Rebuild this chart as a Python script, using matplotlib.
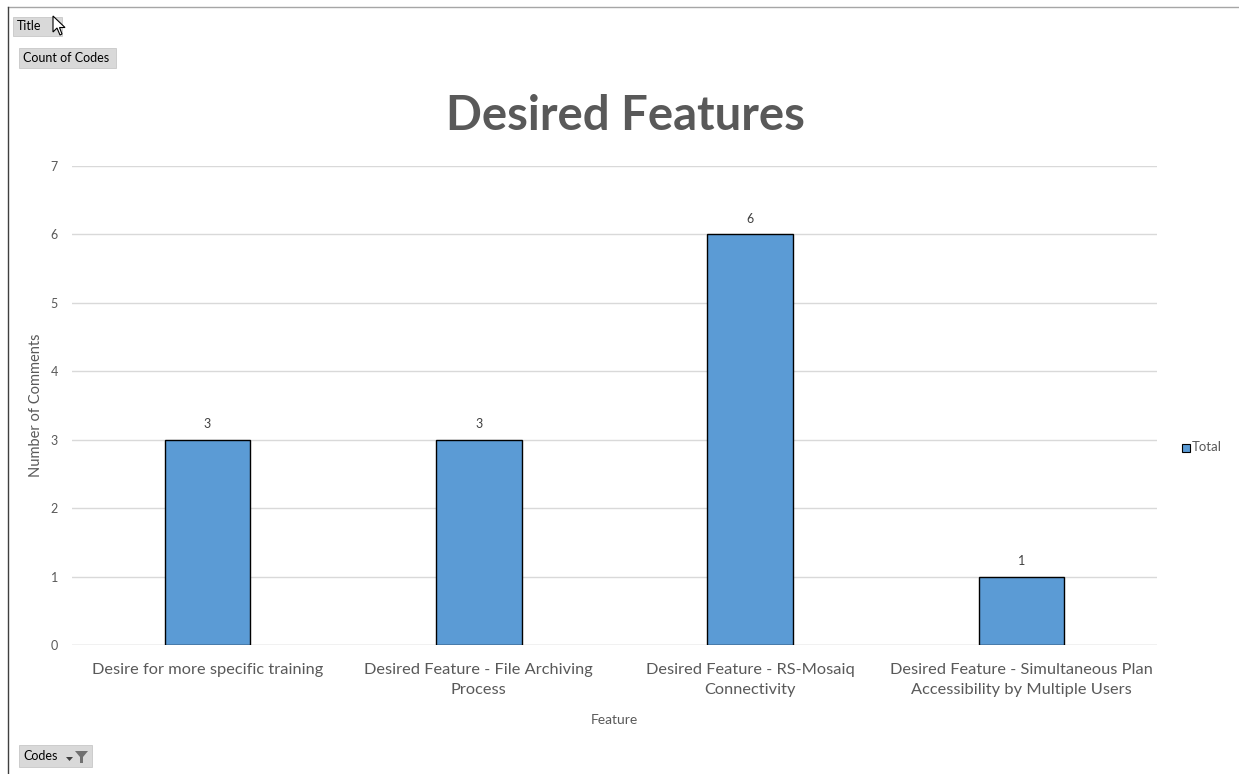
import matplotlib.pyplot as plt
from matplotlib.patches import Rectangle, Polygon

plt.rcParams['font.family'] = ['Lato', 'DejaVu Sans']

features = [
    "Desire for more specific training",
    "Desired Feature - File Archiving\nProcess",
    "Desired Feature - RS-Mosaiq\nConnectivity",
    "Desired Feature - Simultaneous Plan\nAccessibility by Multiple Users",
]
counts = [3, 3, 6, 1]
yticks = [0, 1, 2, 3, 4, 5, 6, 7]

bar_color = "#5B9BD5"
text_gray = "#595959"

fig = plt.figure(figsize=(12.39, 7.74), dpi=100)
ax = fig.add_axes([0.058, 0.1667, 0.876, 0.6188])

x = range(len(features))
bars = ax.bar(x, counts, width=0.315, color=bar_color, edgecolor="black", linewidth=1, zorder=3)
for b, v in zip(bars, counts):
    ax.annotate(str(v), (b.get_x() + b.get_width() / 2, v), xytext=(0, 7),
                textcoords="offset points", ha="center", va="bottom",
                fontsize=9, color="#404040")

ax.set_xlim(-0.5, len(features) - 0.5)
ax.set_ylim(0, 7)
ax.set_yticks(yticks)
ax.set_yticklabels([str(t) for t in yticks], fontsize=9, color=text_gray)
ax.set_xticks(list(x))
ax.set_xticklabels(features, fontsize=11.8, color=text_gray, linespacing=1.55)
ax.tick_params(axis="x", length=0, pad=13)
ax.tick_params(axis="y", length=0, pad=10)
ax.yaxis.grid(True, color="#D9D9D9", linewidth=1, zorder=0)
for s in ax.spines.values():
    s.set_visible(False)
ax.axhline(0, color="#D9D9D9", linewidth=1, zorder=1)

ax.set_ylabel("Number of Comments", fontsize=10.5, color=text_gray, labelpad=0)
ax.yaxis.set_label_coords(-0.027, 0.5)
ax.set_xlabel("Feature", fontsize=10, color=text_gray, labelpad=12)
fig.text(0.505, 1 - 116 / 774, "Desired Features", ha="center", va="center",
         fontsize=34, fontweight="bold", color=text_gray)

# legend
fig.patches.append(Rectangle((1182 / 1239, 1 - 452 / 774), 8 / 1239, 8 / 774,
                             transform=fig.transFigure, facecolor=bar_color,
                             edgecolor="black", linewidth=0.8))
fig.text(1192 / 1239, 1 - 447 / 774, "Total", fontsize=9.5, color=text_gray, va="center")

# sheet frame lines
fig.add_artist(plt.Line2D([8 / 1239, 1], [1 - 7 / 774] * 2, transform=fig.transFigure,
                          color="#A6A6A6", linewidth=1))
fig.add_artist(plt.Line2D([8 / 1239] * 2, [0, 1 - 7 / 774], transform=fig.transFigure,
                          color="#404040", linewidth=1))

# pivot field buttons
def field_button(x0, y0, x1, y1, label):
    fig.patches.append(Rectangle((x0 / 1239, 1 - y1 / 774), (x1 - x0) / 1239, (y1 - y0) / 774,
                                 transform=fig.transFigure, facecolor="#D9D9D9",
                                 edgecolor="#C8C8C8", linewidth=0.6))
    fig.text((x0 + 4) / 1239, 1 - (y0 + y1) / 2 / 774, label, fontsize=9,
             color="black", va="center")

field_button(13, 17, 62, 36, "Title")
field_button(19, 48, 116, 68, "Count of Codes")
field_button(19, 745, 92, 767, "Codes")

# filter icon on the Codes button
fig.patches.append(Polygon([(75 / 1239, 1 - 751 / 774), (88 / 1239, 1 - 751 / 774),
                            (83 / 1239, 1 - 757 / 774), (83 / 1239, 1 - 763 / 774),
                            (80 / 1239, 1 - 763 / 774), (80 / 1239, 1 - 757 / 774)],
                           transform=fig.transFigure, facecolor="#707070", edgecolor="none"))
fig.patches.append(Polygon([(66 / 1239, 1 - 757 / 774), (73 / 1239, 1 - 757 / 774),
                            (69.5 / 1239, 1 - 761 / 774)],
                           transform=fig.transFigure, facecolor="#404040", edgecolor="none"))

# mouse pointer next to the Title button
fig.patches.append(Polygon([(53 / 1239, 1 - 16 / 774), (53 / 1239, 1 - 32 / 774),
                            (57 / 1239, 1 - 28 / 774), (60 / 1239, 1 - 35 / 774),
                            (62 / 1239, 1 - 34 / 774), (59.5 / 1239, 1 - 27.5 / 774),
                            (65 / 1239, 1 - 27.5 / 774)],
                           transform=fig.transFigure, facecolor="white",
                           edgecolor="black", linewidth=0.8))

fig.savefig("out.png", dpi=100)
